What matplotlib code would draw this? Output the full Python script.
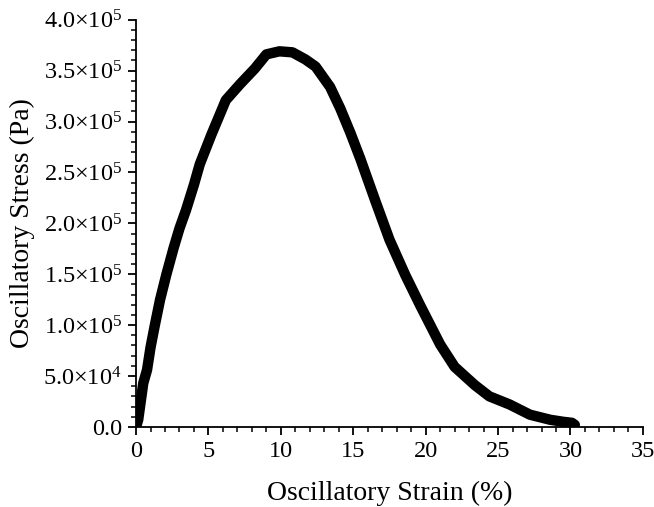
import matplotlib.pyplot as plt
from matplotlib.ticker import MultipleLocator, FuncFormatter

# ----- DATA -----
strain = [0.0, 0.15, 0.5, 0.76, 1.0, 1.3, 1.66, 2.1, 2.6, 3.0, 3.45, 4.0, 4.4,
          5.2, 6.2, 7.2, 8.2, 9.0, 9.9, 10.8, 11.7, 12.4, 13.4, 14.1, 14.8,
          15.5, 16.5, 17.5, 18.6, 19.6, 21.0, 22.0, 23.4, 24.4, 25.8, 27.2,
          28.6, 29.5, 30.1, 30.3]
stress = [0.0, 0.07e5, 0.43e5, 0.56e5, 0.78e5, 1.0e5, 1.25e5, 1.5e5, 1.76e5,
          1.95e5, 2.13e5, 2.38e5, 2.58e5, 2.87e5, 3.21e5, 3.37e5, 3.52e5,
          3.66e5, 3.69e5, 3.68e5, 3.61e5, 3.54e5, 3.34e5, 3.13e5, 2.89e5,
          2.63e5, 2.23e5, 1.84e5, 1.49e5, 1.20e5, 0.81e5, 0.59e5, 0.41e5,
          0.30e5, 0.22e5, 0.12e5, 0.07e5, 0.05e5, 0.04e5, 0.02e5]

plt.rcParams['font.family'] = 'Liberation Serif'
plt.rcParams['mathtext.fontset'] = 'custom'
plt.rcParams['mathtext.rm'] = 'Liberation Serif'
plt.rcParams['mathtext.it'] = 'Liberation Serif:italic'


def sci_fmt(v, pos):
    if v == 0:
        return '0.0'
    exp = 0
    m = v
    while abs(m) >= 10:
        m /= 10
        exp += 1
    return f'{m:.1f}$\\times$10$^{{{exp}}}$'


fig = plt.figure(figsize=(6.54, 5.07), dpi=100)
ax = fig.add_axes([0.208, 0.158, 0.775, 0.803])
ax.plot(strain, stress, color='black', linewidth=7.5, solid_capstyle='round',
        solid_joinstyle='round')

ax.set_xlim(0, 35)
ax.set_ylim(0, 4.0e5)
ax.xaxis.set_major_locator(MultipleLocator(5))
ax.xaxis.set_minor_locator(MultipleLocator(1))
ax.yaxis.set_major_locator(MultipleLocator(0.5e5))
ax.yaxis.set_minor_locator(MultipleLocator(0.1e5))
ax.yaxis.set_major_formatter(FuncFormatter(sci_fmt))

for side in ['top', 'right']:
    ax.spines[side].set_visible(False)
for side in ['left', 'bottom']:
    ax.spines[side].set_linewidth(1.3)

ax.tick_params(which='major', direction='out', length=6, width=1.3,
               labelsize=17.5, pad=4)
ax.tick_params(which='minor', direction='out', length=3.5, width=1.1)

ax.set_xlabel('Oscillatory Strain (%)', fontsize=20, labelpad=14)
ax.set_ylabel('Oscillatory Stress (Pa)', fontsize=20, labelpad=6)

fig.savefig('out.png', dpi=100)
